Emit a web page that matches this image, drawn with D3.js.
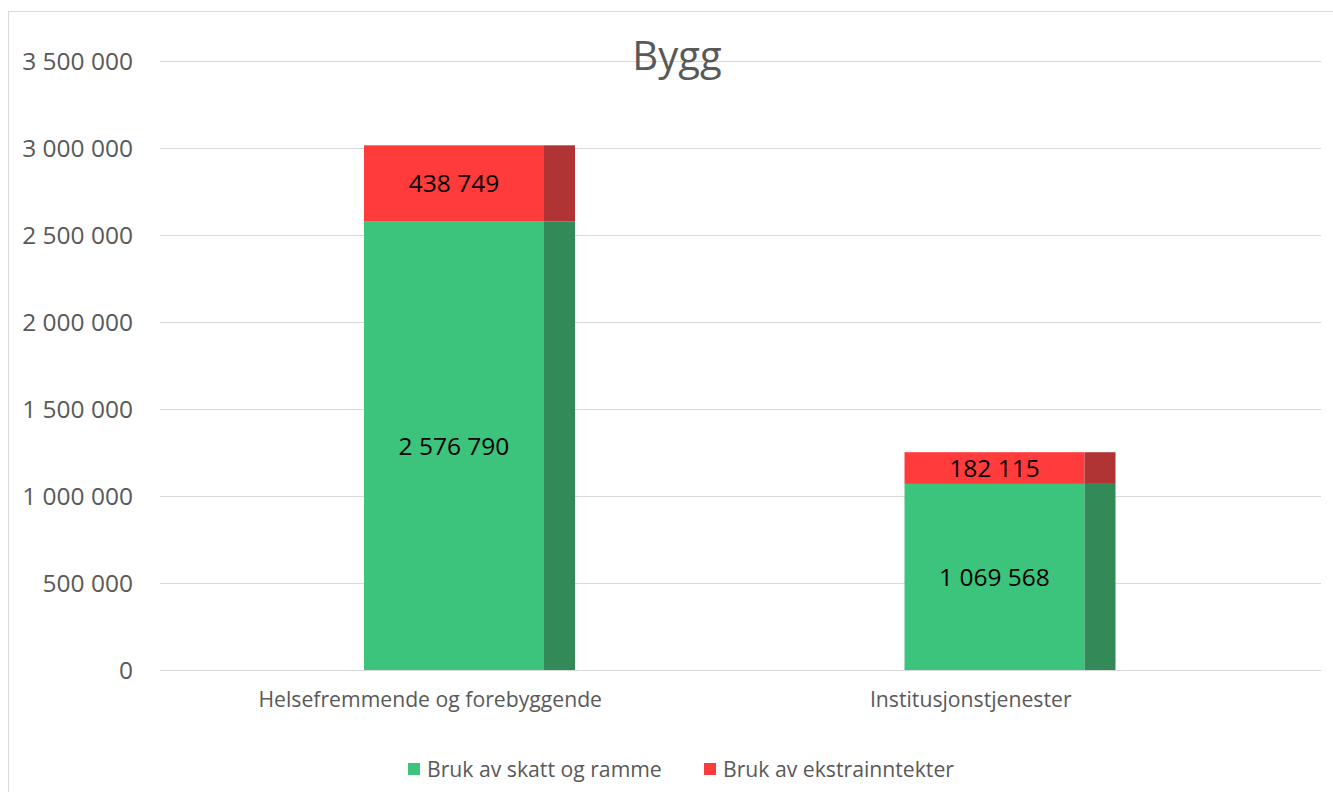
<!DOCTYPE html>
<html>
<head>
<meta charset="utf-8">
<script src="https://cdn.jsdelivr.net/npm/d3@7"></script>
<style>
  body { margin: 0; background: #fff; }
  svg { display: block; font-family: "Open Sans", sans-serif; }
</style>
</head>
<body>
<div id="chart"></div>
<script>
// data
const categories = ["Helsefremmende og forebyggende", "Institusjonstjenester"];
const skattOgRamme = [2576790, 1069568];
const ekstrainntekter = [438749, 182115];
const seriesNames = ["Bruk av skatt og ramme", "Bruk av ekstrainntekter"];
const yTicks = [0, 500000, 1000000, 1500000, 2000000, 2500000, 3000000, 3500000];

const width = 1333;
const height = 792;

const colors = ["#3cc47c", "#ff3b3b"];
const sideColors = ["#338a59", "#b03434"];

const svg = d3.select("#chart")
  .append("svg")
  .attr("width", width)
  .attr("height", height);

// chart frame (runs off the page on right and bottom)
svg.append("rect")
  .attr("x", 8.5)
  .attr("y", 11.5)
  .attr("width", 1400)
  .attr("height", 900)
  .attr("fill", "none")
  .attr("stroke", "#d9d9d9");

const x = d3.scaleBand()
  .domain(categories)
  .range([160, 1241]);

const y = d3.scaleLinear()
  .domain([0, 3500000])
  .range([670, 61]);

const fmt = v => d3.format(",")(v).replace(/,/g, " ");

// gridlines
svg.append("g")
  .selectAll("line")
  .data(yTicks)
  .enter()
  .append("line")
  .attr("x1", 160)
  .attr("x2", 1321)
  .attr("y1", d => Math.round(y(d)) + 0.5)
  .attr("y2", d => Math.round(y(d)) + 0.5)
  .attr("stroke", "#d9d9d9")
  .attr("stroke-width", 1.2);

// y tick labels
svg.append("g")
  .selectAll("text")
  .data(yTicks)
  .enter()
  .append("text")
  .attr("x", 133)
  .attr("y", d => y(d))
  .attr("dy", "0.36em")
  .attr("text-anchor", "end")
  .attr("font-size", "24.5px")
  .attr("fill", "#595959")
  .text(d => fmt(d));

// title
svg.append("text")
  .attr("x", 677)
  .attr("y", 70)
  .attr("text-anchor", "middle")
  .attr("font-size", "40px")
  .attr("fill", "#595959")
  .text("Bygg");

// stacked data
const rows = categories.map((c, i) => ({ cat: c, a: skattOgRamme[i], b: ekstrainntekter[i] }));
const stack = d3.stack().keys(["a", "b"]);
const stacked = stack(rows);

const frontOffset = 204;
const frontW = 180;
const sideW = 31;

stacked.forEach((layer, si) => {
  const g = svg.append("g");

  // front face
  g.selectAll("rect.front")
    .data(layer)
    .enter()
    .append("rect")
    .attr("class", "front")
    .attr("x", d => x(d.data.cat) + frontOffset)
    .attr("y", d => y(d[1]))
    .attr("width", frontW)
    .attr("height", d => y(d[0]) - y(d[1]))
    .attr("fill", colors[si]);

  // darker side face
  g.selectAll("rect.side")
    .data(layer)
    .enter()
    .append("rect")
    .attr("class", "side")
    .attr("x", d => x(d.data.cat) + frontOffset + frontW)
    .attr("y", d => y(d[1]))
    .attr("width", sideW)
    .attr("height", d => y(d[0]) - y(d[1]))
    .attr("fill", sideColors[si]);

  // value labels
  g.selectAll("text")
    .data(layer)
    .enter()
    .append("text")
    .attr("x", d => x(d.data.cat) + frontOffset + frontW / 2)
    .attr("y", d => (y(d[0]) + y(d[1])) / 2)
    .attr("dy", "0.36em")
    .attr("text-anchor", "middle")
    .attr("font-size", "24.5px")
    .attr("fill", "#000")
    .text(d => fmt(d[1] - d[0]));
});

// category labels
svg.append("g")
  .selectAll("text")
  .data(categories)
  .enter()
  .append("text")
  .attr("x", d => x(d) + x.bandwidth() / 2)
  .attr("y", 707)
  .attr("text-anchor", "middle")
  .attr("font-size", "21.2px")
  .attr("fill", "#595959")
  .text(d => d);

// legend
const legendX = [408, 704];
const legend = svg.append("g")
  .selectAll("g")
  .data(seriesNames)
  .enter()
  .append("g")
  .attr("transform", (d, i) => `translate(${legendX[i]}, 769)`);

legend.append("rect")
  .attr("x", 0)
  .attr("y", -6)
  .attr("width", 12)
  .attr("height", 12)
  .attr("fill", (d, i) => colors[i]);

legend.append("text")
  .attr("x", 19)
  .attr("y", 0)
  .attr("dy", "0.36em")
  .attr("font-size", "21.2px")
  .attr("fill", "#595959")
  .text(d => d);
</script>
</body>
</html>
